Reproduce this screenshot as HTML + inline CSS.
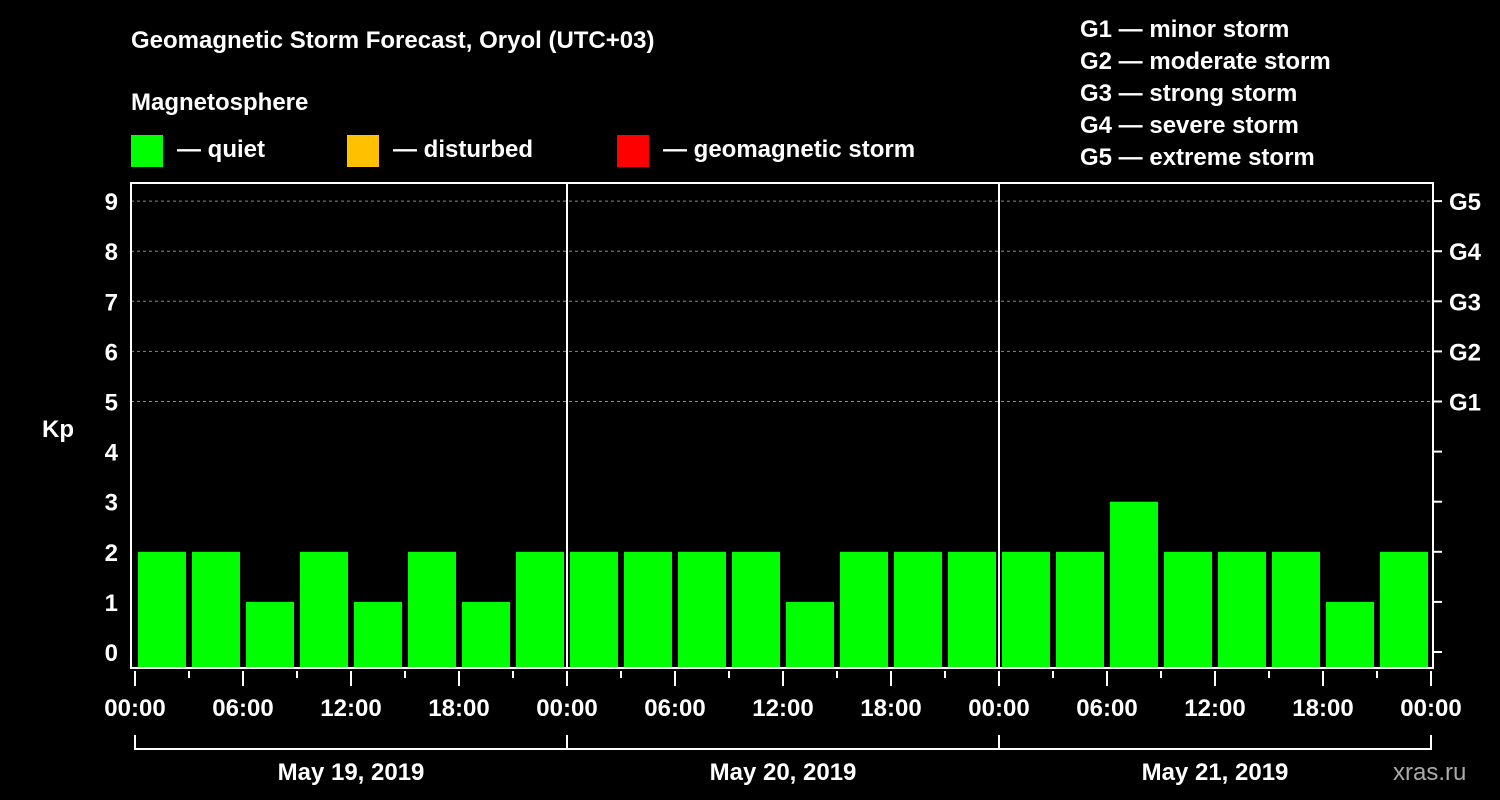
<!DOCTYPE html>
<html><head><meta charset="utf-8"><style>
html,body{margin:0;padding:0;background:#000;}
svg{display:block;font-family:"Liberation Sans",sans-serif;font-weight:bold;}
</style></head><body>
<svg id="chart" width="1500" height="800" xmlns="http://www.w3.org/2000/svg">
<rect x="0" y="0" width="1500" height="800" fill="#000"/>
<text x="131" y="48" fill="#fff" font-size="24">Geomagnetic Storm Forecast, Oryol (UTC+03)</text>
<text x="131" y="110" fill="#fff" font-size="24">Magnetosphere</text>
<g><rect x="131" y="135" width="32" height="32" fill="#00ff00"/><text x="177" y="157" fill="#fff" font-size="24">— quiet</text></g>
<g><rect x="347" y="135" width="32" height="32" fill="#ffc000"/><text x="393" y="157" fill="#fff" font-size="24">— disturbed</text></g>
<g><rect x="617" y="135" width="32" height="32" fill="#ff0000"/><text x="663" y="157" fill="#fff" font-size="24">— geomagnetic storm</text></g>
<g fill="#fff" font-size="24">
<text x="1080" y="37">G1 — minor storm</text>
<text x="1080" y="69">G2 — moderate storm</text>
<text x="1080" y="101">G3 — strong storm</text>
<text x="1080" y="133">G4 — severe storm</text>
<text x="1080" y="165">G5 — extreme storm</text>
</g>
<text x="42" y="437" fill="#fff" font-size="24">Kp</text>
<text x="1393" y="780" fill="#aaa" font-size="24" font-weight="normal">xras.ru</text>
<g id="grid"></g><g id="bars"></g><g id="axes"></g>
</svg>
<script>
const kpValues=[2,2,1,2,1,2,1,2, 2,2,2,2,1,2,2,2, 2,2,3,2,2,2,1,2];
const days=["May 19, 2019","May 20, 2019","May 21, 2019"];
const hourLabels=["00:00","06:00","12:00","18:00"];
const gLabels=["G1","G2","G3","G4","G5"];
const yTicks=[0,1,2,3,4,5,6,7,8,9];
const NS="http://www.w3.org/2000/svg";
const X0=135,DAYW=432,PL=131,PR=1433,PT=183,PB=668;
const xPos=h=>X0+h*DAYW/24;
const yPos=v=>652-v*50.1;
function mk(tag,attrs,parent){const e=document.createElementNS(NS,tag);for(const k in attrs)e.setAttribute(k,attrs[k]);parent.appendChild(e);return e;}
const grid=document.getElementById('grid'),bars=document.getElementById('bars'),axes=document.getElementById('axes');
[5,6,7,8,9].forEach(v=>{const l=mk('line',{x1:PL,x2:PR,y1:yPos(v),y2:yPos(v),stroke:'#888','stroke-dasharray':'3,3','stroke-width':1},grid);

});
kpValues.forEach((v,i)=>{const x=xPos(i*3)+3,w=xPos(3)-xPos(0)-6;
const col=v>=5?'#ff0000':(v>=4?'#ffc000':'#00ff00');
const r=mk('rect',{x:x,y:yPos(v),width:w,height:PB-yPos(v),fill:col},bars);

});
const frame=mk('rect',{x:PL,y:PT,width:PR-PL,height:PB-PT,fill:'none',stroke:'#fff','stroke-width':2},axes);


[1,2].forEach(d=>{const l=mk('line',{x1:xPos(d*24),x2:xPos(d*24),y1:PT,y2:PB,stroke:'#fff','stroke-width':2},axes);

});
yTicks.forEach(v=>{const t=mk('text',{x:118,y:yPos(v)+9,fill:'#fff','font-size':24,'text-anchor':'end'},axes);t.textContent=v;


const tk=mk('line',{x1:PR,x2:PR+9,y1:yPos(v),y2:yPos(v),stroke:'#fff','stroke-width':2},axes);

});
gLabels.forEach((g,i)=>{const t=mk('text',{x:1449,y:yPos(5+i)+9,fill:'#fff','font-size':24},axes);t.textContent=g;

});
for(let h=0;h<=72;h+=3){const major=h%6===0;const l=mk('line',{x1:xPos(h),x2:xPos(h),y1:671,y2:major?686:678,stroke:'#fff','stroke-width':2},axes);


if(major){const t=mk('text',{x:xPos(h),y:716,fill:'#fff','font-size':24,'text-anchor':'middle'},axes);t.textContent=hourLabels[(h/6)%4];

}}
days.forEach((d,i)=>{const p=mk('path',{d:`M${xPos(i*24)},735V749H${xPos(i*24+24)}V735`,fill:'none',stroke:'#fff','stroke-width':2},axes);


const t=mk('text',{x:xPos(i*24+12),y:780,fill:'#fff','font-size':24,'text-anchor':'middle'},axes);t.textContent=d;

});
</script>
</body></html>
